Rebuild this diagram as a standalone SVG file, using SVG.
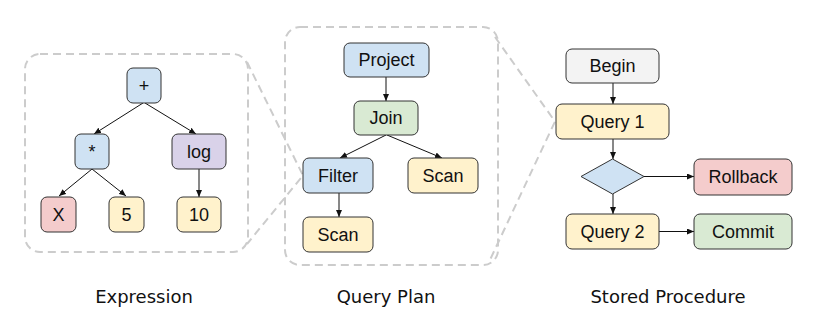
<svg xmlns="http://www.w3.org/2000/svg" width="824" height="329" viewBox="0 0 824 329">
<style>
.n{stroke:#333;stroke-width:1}
.t{font-family:"Liberation Sans",Arial,sans-serif;font-size:18px;fill:#111;text-anchor:middle}
.cap{font-family:"DejaVu Sans",Verdana,sans-serif;font-size:18px;fill:#111;text-anchor:middle}
.blue{fill:#cfe2f3}.green{fill:#d9ead3}.yellow{fill:#fff2cc}.red{fill:#f4cccc}.purple{fill:#d9d2e9}.grey{fill:#f3f3f3}
.dash{fill:none;stroke:#cccccc;stroke-width:2;stroke-dasharray:8 5}
.e{fill:none;stroke:#111;stroke-width:1;marker-end:url(#ah)}
</style>
<defs>
<marker id="ah" markerUnits="userSpaceOnUse" markerWidth="8" markerHeight="6" refX="7" refY="3" orient="auto">
<path d="M0,0 L7,3 L0,6 z" fill="#111"/>
</marker>
</defs>
<g id="zoom-frames">
<rect class="dash" x="25" y="54" width="223" height="198" rx="15"/>
<rect class="dash" x="285" y="27" width="213" height="238" rx="15"/>
<path class="dash" d="M247,62 L303,175.5 L247,244"/>
<path class="dash" d="M495,37 L555,121.5 L489,262"/>
</g>
<g id="connectors">
<path class="e" d="M143,103 L94,134"/>
<path class="e" d="M145,103 L196,134"/>
<path class="e" d="M92,169 L59,196"/>
<path class="e" d="M92,169 L126,196"/>
<path class="e" d="M199,169 L199,197"/>
<path class="e" d="M386,77 L386,101"/>
<path class="e" d="M386,135 L340,158"/>
<path class="e" d="M387,135 L442,158"/>
<path class="e" d="M339,193 L339,217"/>
<path class="e" d="M613,83 L613,104"/>
<path class="e" d="M613,139 L613,159"/>
<path class="e" d="M613,194 L613,214"/>
<path class="e" d="M644,176.5 L694,176.5"/>
<path class="e" d="M659,231.5 L694,231.5"/>
</g>
<g id="plus"><rect class="n blue" x="127" y="68" width="34" height="35" rx="6"/><text class="t" x="144" y="92">+</text></g>
<g id="times"><rect class="n blue" x="75" y="134" width="34" height="35" rx="6"/><text class="t" x="92" y="158">*</text></g>
<g id="log"><rect class="n purple" x="172" y="134" width="54" height="35" rx="6"/><text class="t" x="199" y="158">log</text></g>
<g id="x"><rect class="n red" x="41" y="197" width="35" height="35" rx="6"/><text class="t" x="58.5" y="221">X</text></g>
<g id="five"><rect class="n yellow" x="109" y="197" width="35" height="35" rx="6"/><text class="t" x="126.5" y="221">5</text></g>
<g id="ten"><rect class="n yellow" x="177" y="197" width="44" height="35" rx="6"/><text class="t" x="199" y="221">10</text></g>
<g id="project"><rect class="n blue" x="344" y="43" width="85" height="34" rx="6"/><text class="t" x="386.5" y="66">Project</text></g>
<g id="join"><rect class="n green" x="354" y="101" width="64" height="34" rx="6"/><text class="t" x="386" y="124">Join</text></g>
<g id="filter"><rect class="n blue" x="303" y="158" width="70" height="35" rx="6"/><text class="t" x="338" y="182">Filter</text></g>
<g id="scan-right"><rect class="n yellow" x="408" y="158" width="70" height="35" rx="6"/><text class="t" x="443" y="182">Scan</text></g>
<g id="scan-bottom"><rect class="n yellow" x="303" y="217" width="70" height="35" rx="6"/><text class="t" x="338" y="241">Scan</text></g>
<g id="begin"><rect class="n grey" x="566" y="49" width="93" height="34" rx="6"/><text class="t" x="612.5" y="72">Begin</text></g>
<g id="query1"><rect class="n yellow" x="556" y="104" width="113" height="35" rx="6"/><text class="t" x="612.5" y="128">Query 1</text></g>
<g id="decision"><polygon class="n blue" points="612.5,159 644,176.5 612.5,194 581,176.5"/></g>
<g id="rollback"><rect class="n red" x="694" y="159" width="98" height="36" rx="6"/><text class="t" x="743" y="183">Rollback</text></g>
<g id="query2"><rect class="n yellow" x="566" y="214" width="93" height="35" rx="6"/><text class="t" x="612.5" y="238">Query 2</text></g>
<g id="commit"><rect class="n green" x="694" y="214" width="98" height="35" rx="6"/><text class="t" x="743" y="238">Commit</text></g>
<g id="captions">
<text class="cap" x="144" y="303">Expression</text>
<text class="cap" x="386" y="303">Query Plan</text>
<text class="cap" x="668" y="303">Stored Procedure</text>
</g>
</svg>
